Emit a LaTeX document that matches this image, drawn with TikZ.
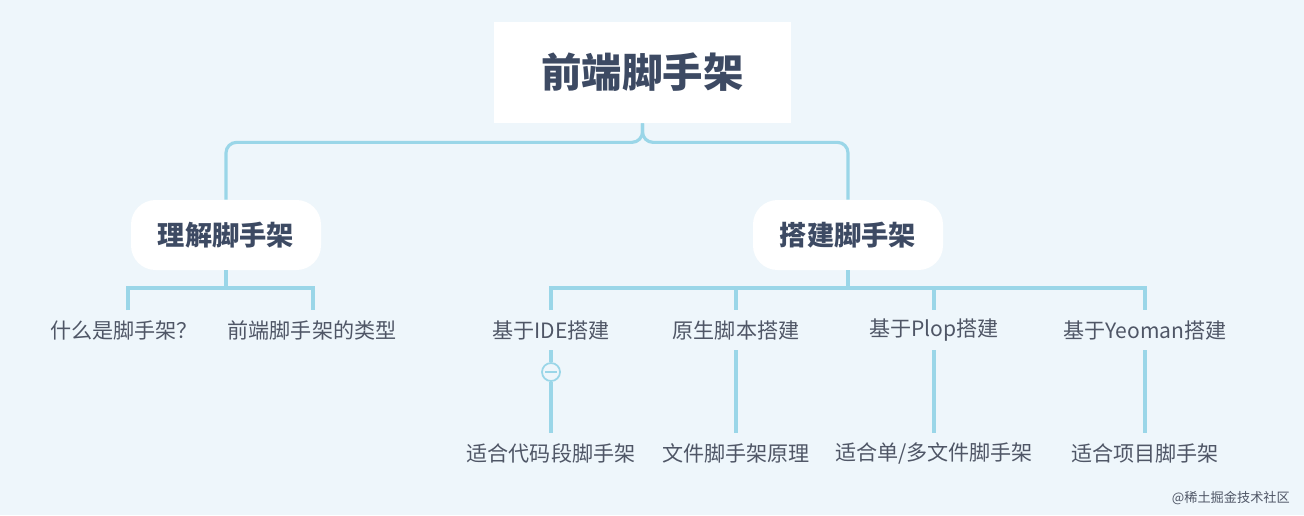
\documentclass[tikz,border=0pt]{standalone}
\usepackage{fontspec}
\setmainfont{Noto Sans CJK SC}
\definecolor{bg}{HTML}{EEF6FB}
\definecolor{ln}{HTML}{9AD6E8}
\definecolor{dk}{HTML}{3D4A63}
\definecolor{tx}{HTML}{4F5666}
\begin{document}
\begin{tikzpicture}[x=0.02cm,y=-0.02cm,
  conn/.style={ln,line width=1.8pt,rounded corners=6pt},
  leaf/.style={text=tx,font=\fontsize{12}{14}\selectfont,inner sep=2pt},
  mid/.style={fill=white,rounded corners=14pt,minimum width=190*0.02cm,minimum height=70*0.02cm,text=dk,font=\fontsize{15.5}{17}\selectfont\bfseries}]
\fill[bg] (0,0) rectangle (1304,515);
\useasboundingbox (0,0) rectangle (1304,515);
\node[fill=white,minimum width=297*0.02cm,minimum height=101*0.02cm,text=dk,font=\fontsize{23}{26}\selectfont\bfseries] (root) at (642.5,72.5) {前端脚手架};
\node[mid] (a) at (226,235) {理解脚手架};
\node[mid] (b) at (848,235) {搭建脚手架};
\draw[conn] (root.south) -- ++(0,19) -| (a.north);
\draw[conn] (root.south) -- ++(0,19) -| (b.north);
\node[leaf] (a1) at (124,330) {什么是脚手架？};
\node[leaf] (a2) at (312,330) {前端脚手架的类型};
\coordinate (a1t) at (128,310);
\coordinate (a2t) at (313,310);
\draw[conn,rounded corners=0pt] (a.south) -- (226,288);
\draw[conn,rounded corners=0pt] (a1t) |- (a2t|-0,288) -- (a2t);
\node[leaf] (b1) at (551,330) {基于IDE搭建};
\node[leaf] (b2) at (736,330) {原生脚本搭建};
\node[leaf] (b3) at (934,330) {基于Plop搭建};
\node[leaf] (b4) at (1145,330) {基于Yeoman搭建};
\draw[conn,rounded corners=0pt] (b.south) -- (848,288);
\draw[conn,rounded corners=0pt] (551,310) -- (551,288) -- (1145,288) -- (1145,310);
\draw[conn] (736,288) -- (736,310) (934,288) -- (934,310);
\node[leaf] (c1) at (551,453) {适合代码段脚手架};
\node[leaf] (c2) at (736,453) {文件脚手架原理};
\node[leaf] (c3) at (934,453) {适合单/多文件脚手架};
\node[leaf] (c4) at (1145,453) {适合项目脚手架};
\node[circle,draw=ln,fill=bg,line width=1pt,minimum size=18*0.02cm,inner sep=0pt] (m) at (551,372) {};
\draw[ln,line width=1pt] (545,372) -- (557,372);
\draw[conn] (551,350) -- (m.north) (m.south) -- (551,433);
\draw[conn] (736,350) -- (736,433);
\draw[conn] (934,350) -- (934,433);
\draw[conn] (1145,350) -- (1145,433);
\node[text=tx,font=\fontsize{7.5}{9}\selectfont,anchor=east] (wm) at (1296,498) {@稀土掘金技术社区};
\end{tikzpicture}
\end{document}
